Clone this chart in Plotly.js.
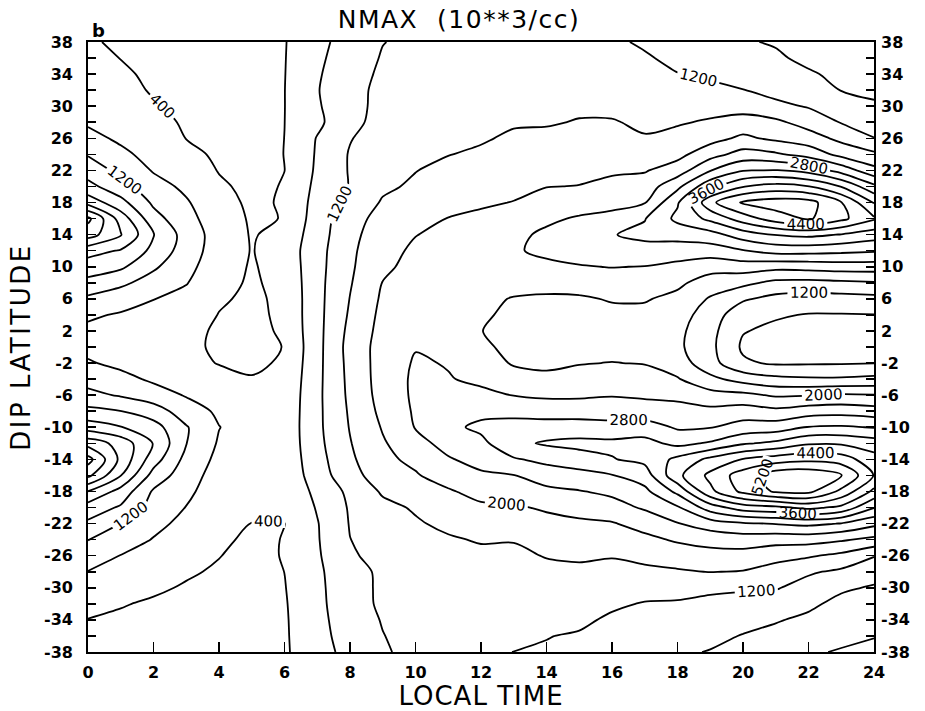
<!DOCTYPE html>
<html><head><meta charset="utf-8">
<script src="https://cdn.plot.ly/plotly-3.0.1.min.js"></script>
<style>
html,body{margin:0;padding:0;background:#fff}
.gtitle{letter-spacing:1.5px}
.xtitle{letter-spacing:1px}
.ytitle{letter-spacing:2.5px}
</style>
</head><body>
<div id="chart" style="width:925px;height:711px"></div>
<script>
// Local time (hours) and dip latitude (degrees) of the grid
const localTime = [0,1,2,3,4,5,6,7,8,9,10,11,12,13,14,15,16,17,18,19,20,21,22,23,24];
const dipLatitude = [38,36,34,32,30,28,26,24,22,20,18,16,14,12,10,8,6,4,2,0,-2,-4,-6,-8,-10,-12,-14,-16,-18,-20,-22,-24,-26,-28,-30,-32,-34,-36,-38];

// NMAX (10**3/cc) versus dip latitude (38 .. -38) at each local time
const lt00 = [430,480,540,600,670,750,920,1170,1420,1720,2250,3300,2980,2150,1800,1490,1120,860,720,690,840,1050,1310,1710,2210,3050,3750,3300,2390,1820,1530,1210,990,790,650,520,390,330,280];
const lt01 = [360,395,450,500,560,640,730,890,1100,1350,1730,2220,2430,1970,1670,1280,990,760,620,600,700,930,1160,1610,2020,2650,2700,2410,1850,1550,1190,985,790,680,560,420,350,300,260];
const lt02 = [300,320,340,370,430,500,580,660,770,950,1130,1350,1620,1500,1260,1040,810,650,560,560,560,730,990,1390,1760,1980,1780,1450,1150,1030,900,780,660,560,450,360,310,280,250];
const lt03 = [260,270,280,300,320,360,395,480,590,720,840,930,1030,1000,920,820,680,580,520,500,470,600,770,1000,1230,1210,1080,970,880,790,700,610,530,440,370,320,290,260,240];
const lt04 = [230,240,250,260,270,290,320,350,385,450,520,580,620,610,560,500,440,390,340,330,390,480,600,730,810,760,700,640,600,560,510,460,410,360,310,280,260,240,220];
const lt05 = [200,205,210,215,220,230,240,260,290,320,340,360,375,385,370,360,340,320,300,300,340,420,500,560,600,610,590,560,520,460,395,340,300,270,250,230,220,210,200];
const lt06 = [380,385,390,395,395,398,402,405,398,420,430,410,500,560,530,490,470,470,450,410,440,480,510,530,540,540,530,510,480,440,398,410,420,402,385,370,360,355,350];
const lt07 = [700,730,760,780,760,720,820,840,860,900,950,1000,1030,1060,1070,1080,1080,1080,1080,1080,1090,1100,1110,1110,1110,1090,1050,1000,900,830,780,770,750,730,710,690,680,670,650];
const lt08 = [950,990,1030,1070,1060,1080,1180,1230,1230,1220,1300,1440,1480,1520,1540,1570,1610,1650,1700,1740,1720,1700,1680,1650,1620,1580,1530,1460,1290,1240,1220,1195,1160,1060,1060,1070,1020,970,920];
const lt09 = [1190,1230,1270,1300,1320,1350,1380,1410,1450,1530,1640,1740,1830,1880,1930,2010,2060,2100,2130,2160,2170,2170,2150,2100,2030,1960,1900,1800,1650,1500,1400,1340,1300,1270,1260,1250,1220,1190,1160];
const lt10 = [1280,1300,1330,1360,1380,1410,1440,1490,1590,1660,1730,1850,1990,2060,2110,2150,2180,2200,2250,2380,2440,2470,2470,2450,2420,2250,2100,1960,1770,1640,1560,1500,1450,1410,1380,1360,1340,1320,1300];
const lt11 = [1330,1340,1360,1380,1400,1430,1470,1590,1700,1800,1900,2010,2090,2150,2200,2230,2240,2250,2270,2330,2380,2420,2550,2650,2710,2550,2360,2200,1950,1800,1680,1560,1480,1430,1400,1380,1360,1350,1340];
const lt12 = [1380,1390,1400,1410,1430,1480,1560,1660,1780,1880,1960,2060,2150,2220,2190,2120,2080,2040,2005,2050,2150,2330,2480,2700,2880,2700,2550,2330,2150,1920,1780,1630,1520,1450,1400,1370,1340,1310,1290];
const lt13 = [1420,1420,1430,1440,1460,1560,1660,1750,1840,1920,2010,2120,2300,2360,2250,2130,1980,1940,1920,1930,1970,2130,2390,2680,2950,3100,2760,2390,2200,1950,1800,1620,1520,1450,1390,1340,1290,1240,1195];
const lt14 = [1440,1440,1450,1470,1500,1570,1680,1780,1880,1990,2150,2320,2480,2480,2320,2120,1950,1900,1880,1890,1930,2080,2330,2650,2950,3250,2900,2600,2300,2050,1880,1730,1620,1500,1400,1320,1260,1210,1170];
const lt15 = [1430,1440,1460,1500,1540,1620,1720,1820,1910,2010,2180,2450,2560,2540,2380,2170,1950,1880,1850,1860,1980,2150,2340,2620,2980,3300,3050,2650,2380,2150,1930,1780,1650,1530,1420,1330,1260,1170,1120];
const lt16 = [1260,1320,1400,1470,1530,1620,1730,1840,1950,2100,2300,2500,2780,2650,2410,2220,2030,1900,1850,1880,2010,2200,2380,2600,2950,3280,3180,2780,2480,2250,1970,1800,1620,1500,1370,1250,1150,1080,1020];
const lt17 = [1150,1240,1320,1400,1470,1550,1620,1760,1970,2180,2380,2780,2900,2650,2390,2200,2030,1900,1850,1900,1980,2200,2350,2550,3000,3320,3300,3000,2700,2450,2150,1900,1700,1520,1320,1180,1080,990,920];
const lt18 = [1020,1110,1210,1330,1420,1560,1730,1880,2200,2700,3150,3300,2950,2600,2300,2080,1900,1780,1700,1680,1800,2030,2300,2550,2750,3100,3700,3900,3300,2750,2380,2050,1780,1560,1300,1170,1080,960,860];
const lt19 = [950,1040,1140,1290,1440,1650,1860,2250,2780,3500,4300,3700,3050,2600,2150,1820,1560,1400,1320,1300,1350,1700,2150,2500,2780,3250,4100,4500,4300,3400,2600,2150,1850,1610,1280,1100,1020,900,780];
const lt20 = [830,930,1050,1210,1440,1760,2080,2550,3180,3980,4850,4200,3400,2780,2200,1700,1250,950,820,740,860,1450,2100,2600,2950,3550,4420,5000,4900,3800,2750,2200,1850,1580,1250,1050,930,780,700];
const lt21 = [770,850,950,1080,1290,1680,1920,2460,3220,4150,5000,4600,3620,2950,2120,1500,1080,840,720,690,750,1300,1950,2500,3000,3700,4600,5450,5250,3900,2820,2150,1720,1450,1230,1000,830,690,570];
const lt22 = [660,720,840,1000,1170,1440,1780,2250,3050,4020,4950,4850,3700,2950,2150,1480,1020,780,670,640,760,1250,1980,2620,3220,3950,4700,5500,5300,4100,2900,2150,1650,1250,1050,880,720,560,430];
const lt23 = [610,660,720,790,960,1180,1500,1880,2650,3580,4420,4500,3580,2900,2200,1520,1050,780,660,630,770,1250,2050,2650,3250,3950,4600,5250,4700,3900,2780,2050,1500,1130,860,690,570,460,380];
const lt24 = [570,620,680,740,840,1010,1210,1680,2120,2900,3580,4050,3400,2850,2200,1560,1080,790,690,670,790,1300,2020,2580,3180,3800,4150,4380,3900,3220,2500,1900,1220,960,760,630,520,410,340];

// Tick labels
const xTickVals = [0,2,4,6,8,10,12,14,16,18,20,22,24];
const xTickText = ['0','2','4','6','8','10','12','14','16','18','20','22','24'];
const yTickVals = [38,34,30,26,22,18,14,10,6,2,-2,-6,-10,-14,-18,-22,-26,-30,-34,-38];
const yTickText = ['38','34','30','26','22','18','14','10','6','2','-2','-6','-10','-14','-18','-22','-26','-30','-34','-38'];
const yMinorVals = [38,36,34,32,30,28,26,24,22,20,18,16,14,12,10,8,6,4,2,0,-2,-4,-6,-8,-10,-12,-14,-16,-18,-20,-22,-24,-26,-28,-30,-32,-34,-36,-38];

const columns = [lt00,lt01,lt02,lt03,lt04,lt05,lt06,lt07,lt08,lt09,lt10,lt11,lt12,lt13,lt14,lt15,lt16,lt17,lt18,lt19,lt20,lt21,lt22,lt23,lt24];
// rows = latitude (ascending), columns = local time
const yAsc = dipLatitude.slice().reverse();
const z = yAsc.map(lat => { const i = dipLatitude.indexOf(lat); return columns.map(c => c[i]); });

const FONT = 'DejaVu Sans';
const lineStyle = {color:'#000', width:1.8, smoothing:0.9};
// unlabelled levels (800, 1600, ...) drawn against the right-hand latitude axis (same range)
const plain = {type:'contour', x:localTime, y:yAsc, z:z, yaxis:'y2', showscale:false, hoverinfo:'skip',
  autocontour:false, line:lineStyle,
  contours:{start:800, end:4800, size:800, coloring:'none', showlabels:false}};
// labelled levels (400, 1200, 2000, ...)
const labeled = {type:'contour', x:localTime, y:yAsc, z:z, showscale:false, hoverinfo:'skip',
  autocontour:false, line:lineStyle,
  contours:{start:400, end:5200, size:800, coloring:'none', showlabels:true,
    labelfont:{family:FONT, size:15, color:'#000'}}};

const axisCommon = {showgrid:false, zeroline:false, tickcolor:'#000', tickwidth:1.6, linecolor:'#000', linewidth:1.8};
const tickFont = {family:FONT, size:16, weight:'bold', color:'#000'};
const layout = {
  width:925, height:711,
  margin:{l:88, r:51, t:42, b:59, pad:0},
  paper_bgcolor:'#fff', plot_bgcolor:'#fff', showlegend:false,
  font:{family:FONT, color:'#000'},
  title:{text:'NMAX\u00a0\u00a0(10**3/cc)', x:0.472, xref:'paper', xanchor:'center',
    y:1-19/711, yref:'container', yanchor:'middle', font:{family:FONT, size:25, color:'#000'}},
  xaxis:Object.assign({}, axisCommon, {range:[0,24], tickmode:'array', tickvals:xTickVals, ticktext:xTickText,
    ticks:'inside', ticklen:10, showline:true, mirror:true, ticklabelstandoff:5,
    tickfont:tickFont,
    title:{text:'LOCAL TIME', font:{family:FONT, size:26, color:'#000'}, standoff:2}}),
  yaxis:Object.assign({}, axisCommon, {range:[-38,38], tickmode:'array', tickvals:yTickVals, ticktext:yTickText,
    ticks:'inside', ticklen:8, showline:true, mirror:true, ticklabelstandoff:10,
    minor:{tickmode:'array', tickvals:yMinorVals, ticks:'inside', ticklen:8, tickwidth:1.6, tickcolor:'#000'},
    tickfont:tickFont,
    title:{text:'DIP LATITUDE', font:{family:FONT, size:26, color:'#000'}, standoff:6}}),
  yaxis2:Object.assign({}, axisCommon, {range:[-38,38], overlaying:'y', side:'right', anchor:'x',
    tickmode:'array', tickvals:yTickVals, ticktext:yTickText, ticks:'inside', ticklen:8, showline:false,
    ticklabelstandoff:6,
    minor:{tickmode:'array', tickvals:yMinorVals, ticks:'inside', ticklen:8, tickwidth:1.6, tickcolor:'#000'},
    tickfont:tickFont}),
  annotations:[{text:'<b>b</b>', xref:'paper', yref:'paper', x:0.002, y:1.0, xanchor:'left', yanchor:'bottom',
    yshift:-1, showarrow:false, font:{family:FONT, size:18, color:'#000'}}]
};
Plotly.newPlot('chart', [plain, labeled], layout, {staticPlot:true, displayModeBar:false});
</script>
</body></html>
